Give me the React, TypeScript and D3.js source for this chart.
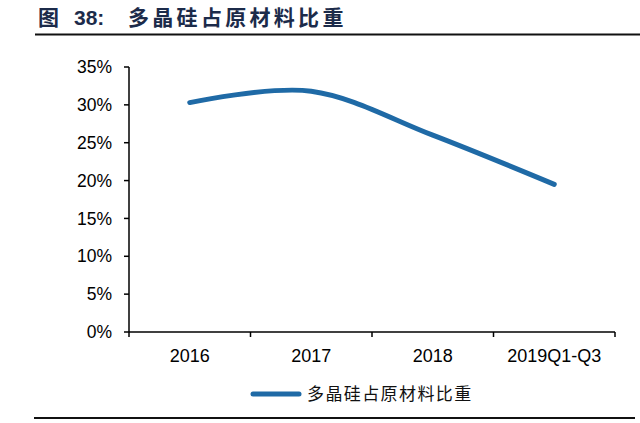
import React from 'react';
import * as d3 from 'd3';

const categories = ['2016', '2017', '2018', '2019Q1-Q3'];
const shareValues = [0.303, 0.318, 0.26, 0.195];
const yTicks = [0, 0.05, 0.1, 0.15, 0.2, 0.25, 0.3, 0.35];
const seriesName = '多晶硅占原材料比重';

const W = 640;
const H = 423;
const plot = { left: 129, right: 615, top: 67, bottom: 332 };
const FONT = 'Arial, "Liberation Sans", sans-serif';
const CJK = '"Noto Sans CJK SC", sans-serif';
const BLUE = '#1f6aa6';

const App: React.FC = () => {
  const x = d3.scaleBand<string>().domain(categories).range([plot.left, plot.right]).padding(0);
  const y = d3.scaleLinear().domain([0, 0.35]).range([plot.bottom, plot.top]);

  const line = d3
    .line<number>()
    .x((_, i) => x(categories[i])! + x.bandwidth() / 2)
    .y(d => y(d))
    .curve(d3.curveCardinal.tension(0));

  const boundaries = [...categories.map(c => x(c)!), plot.right];

  return (
    <svg width={W} height={H} style={{ position: 'absolute', left: 0, top: 0, background: '#fff' }}>
      {/* title */}
      <text x={38} y={25} fontFamily={CJK} fontWeight={700} fontSize={21} fill="#1c2b4a">图</text>
      <text x={74} y={25} fontFamily={FONT} fontWeight={700} fontSize={21} fill="#1c2b4a">38:</text>
      <text x={128} y={25} fontFamily={CJK} fontWeight={700} fontSize={21} letterSpacing={3.3} fill="#1c2b4a">
        {seriesName}
      </text>
      <line x1={35} x2={640} y1={34.5} y2={34.5} stroke="#111" strokeWidth={2} />
      <line x1={34} x2={635} y1={418} y2={418} stroke="#111" strokeWidth={2} />

      {/* y axis */}
      <line x1={plot.left} x2={plot.left} y1={plot.top} y2={plot.bottom} stroke="#000" strokeWidth={1.5} />
      {yTicks.map(t => (
        <g key={t}>
          <line x1={plot.left - 5} x2={plot.left} y1={y(t)} y2={y(t)} stroke="#000" strokeWidth={1.5} />
          <text x={112} y={y(t)} dy="0.35em" textAnchor="end" fontFamily={FONT} fontSize={17.5} fill="#000">
            {`${Math.round(t * 100)}%`}
          </text>
        </g>
      ))}

      {/* x axis */}
      <line x1={plot.left} x2={plot.right} y1={plot.bottom} y2={plot.bottom} stroke="#000" strokeWidth={1.5} />
      {boundaries.map((b, i) => (
        <line key={i} x1={b} x2={b} y1={plot.bottom} y2={plot.bottom + 5} stroke="#000" strokeWidth={1.5} />
      ))}
      {categories.map(c => (
        <text
          key={c}
          x={x(c)! + x.bandwidth() / 2}
          y={362}
          textAnchor="middle"
          fontFamily={FONT}
          fontSize={18}
          fill="#000"
        >
          {c}
        </text>
      ))}

      {/* series */}
      <path d={line(shareValues) ?? ''} fill="none" stroke={BLUE} strokeWidth={5} strokeLinecap="round" />

      {/* legend */}
      <line x1={253} x2={299} y1={394} y2={394} stroke={BLUE} strokeWidth={5} strokeLinecap="round" />
      <text x={307} y={400} fontFamily={CJK} fontSize={17} letterSpacing={1.4} fill="#111">
        {seriesName}
      </text>
    </svg>
  );
};

export default App;
